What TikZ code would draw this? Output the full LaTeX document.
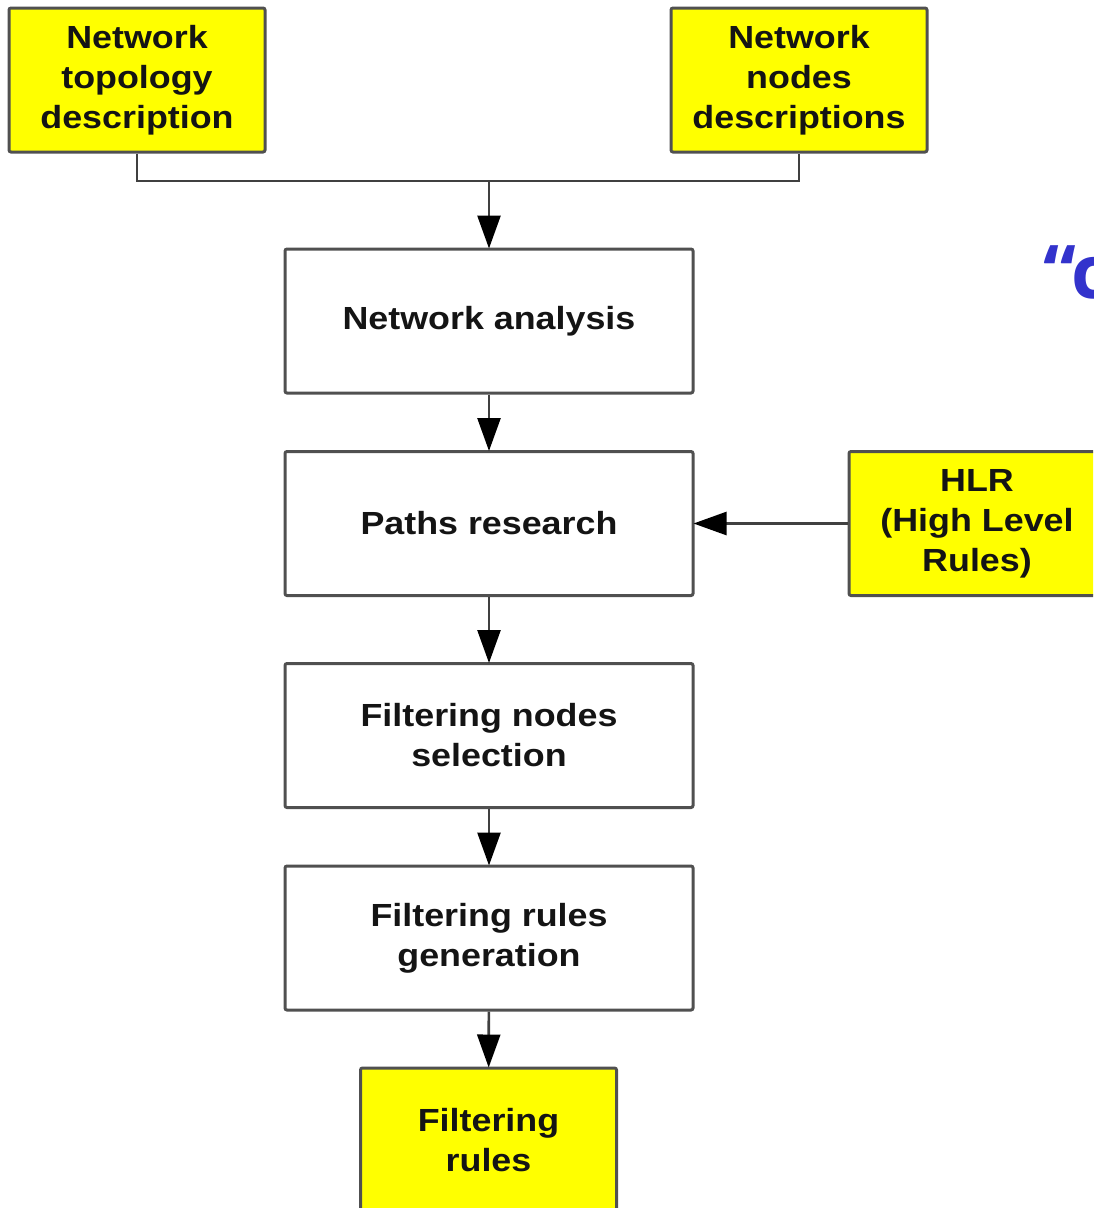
\documentclass[tikz,border=0pt]{standalone}
\usepackage{fontspec}
\setmainfont{Liberation Sans}[FakeStretch=1.12]
\newfontfamily\quotefont{Open Sans}
\usetikzlibrary{arrows.meta}
\definecolor{boxline}{HTML}{505050}
\definecolor{linkline}{HTML}{404040}
\definecolor{hlyellow}{HTML}{FFFF00}
\definecolor{quoteblue}{HTML}{3333CC}
\tikzset{
  x=1pt, y=-1pt,
  flowbox/.style={draw=boxline, line width=3pt, rounded corners=2pt,
    minimum width=408pt, minimum height=144pt, inner sep=0pt,
    align=center, font=\fontsize{32}{40}\selectfont\bfseries, text=black!92},
  inputbox/.style={flowbox, fill=hlyellow, minimum width=256pt},
  link/.style={draw=linkline, line width=2.6pt},
  flowarrow/.style={link, -{Triangle[length=33pt,width=23pt,fill=black,color=black]}, shorten >=-1pt}
}
\begin{document}
\begin{tikzpicture}
  \useasboundingbox (0,0) rectangle (1093,1208);
  \clip (0,0) rectangle (1093,1208);

  % inputs
  \node[inputbox] (topo) at (137,80) {Network\\topology\\description};
  \node[inputbox] (nodes) at (799,80) {Network\\nodes\\descriptions};

  % processing chain
  \node[flowbox] (analysis) at (489,321) {Network analysis};
  \node[flowbox] (paths) at (489,523.5) {Paths research};
  \node[flowbox] (select) at (489,735.5) {Filtering nodes\\selection};
  \node[flowbox] (gen) at (489,938) {Filtering rules\\generation};
  \node[inputbox] (rules) at (488.5,1140) {Filtering\\rules};
  \node[inputbox] (hlr) at (977,523.5) {HLR\\(High Level\\Rules)};

  % merge of the two descriptions
  \coordinate (merge) at (489,181);
  \draw[link] (topo.south) |- (merge) -| (nodes.south);
  \draw[flowarrow] (merge) -- (analysis.north);

  \draw[flowarrow] (analysis) -- (paths);
  \draw[flowarrow] (paths) -- (select);
  \draw[flowarrow] (select) -- (gen);
  \draw[flowarrow] (gen) -- (rules);
  \draw[flowarrow] (hlr) -- (paths);

  % quotation on the right margin
  \node[anchor=base west, inner sep=0pt, text=quoteblue,
        font=\quotefont\fontsize{74}{74}\selectfont\bfseries] (quote) at (1043,298) {“c};
\end{tikzpicture}
\end{document}
